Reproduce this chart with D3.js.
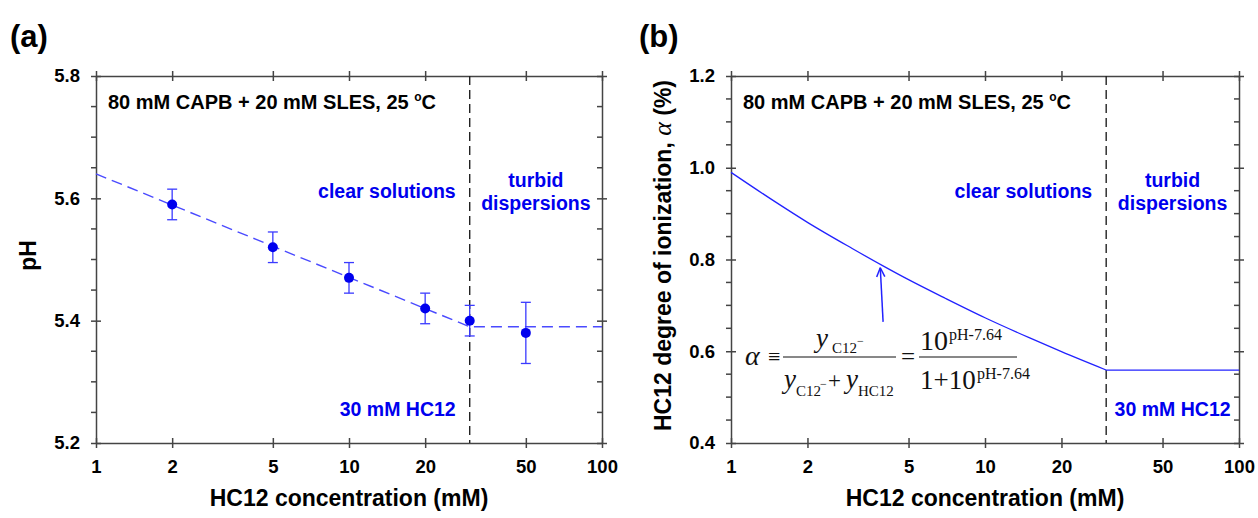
<!DOCTYPE html>
<html>
<head>
<meta charset="utf-8">
<script src="https://cdn.jsdelivr.net/npm/d3@7"></script>
<style>
  body { margin: 0; background: #fff; }
  svg { display: block; font-family: "Liberation Sans", Arial, sans-serif; }
  .axis path, .axis line, .minor { stroke: #444; stroke-width: 1.5; }
  .axis text { font-size: 18.5px; font-weight: bold; fill: #000; font-family: "Liberation Sans", Arial, sans-serif; }
  .title { font-size: 23px; font-weight: bold; fill: #000; }
  .letter { font-size: 31px; font-weight: bold; fill: #000; }
  .note { font-size: 20px; font-weight: bold; fill: #000; }
  .blue { font-size: 19.5px; font-weight: bold; fill: #0000ee; }
  .formula { font-family: "Liberation Serif", "Times New Roman", serif; fill: #111; }
</style>
</head>
<body>
<div id="chart"></div>
<script>
(function () {

  // data
  var xTicks = [1, 2, 5, 10, 20, 50, 100]
  var phTicks = [5.2, 5.4, 5.6, 5.8]
  var alphaTicks = [0.4, 0.6, 0.8, 1.0, 1.2]

  // panel (a): measured pH with error bars
  var conc = [2, 5, 10, 20, 30, 50]
  var ph = [5.59, 5.52, 5.47, 5.42, 5.40, 5.38]
  var phErr = [0.025, 0.025, 0.025, 0.025, 0.025, 0.05]

  // dashed fit line in (a)
  var fitConc = [1, 30, 100]
  var fitPh = [5.64, 5.39, 5.39]

  // panel (b): degree of ionization curve (clear part, then flat part)
  var alphaConc = [1, 1.5, 2, 3, 4, 5, 7, 10, 15, 20, 30]
  var alpha = [0.99, 0.925, 0.881, 0.824, 0.785, 0.756, 0.715, 0.673, 0.629, 0.599, 0.559]
  var flatConc = [30, 100]
  var flatAlpha = [0.559, 0.559]

  var kinkConc = 30

  var top = 76, height = 367

  var svg = d3.select("#chart").append("svg")
    .attr("width", 1258)
    .attr("height", 518)

  function makePanel(opts) {
    var g = svg.append("g")
      .attr("transform", "translate(" + opts.left + "," + top + ")")

    var x = d3.scaleLog().domain([1, 100]).range([0, opts.width])
    var y = d3.scaleLinear().domain(opts.yDomain).range([height, 0])

    // bottom axis with labels, top axis mirrored
    g.append("g")
      .attr("class", "axis x-axis")
      .attr("transform", "translate(0," + height + ")")
      .call(d3.axisBottom(x).tickValues(xTicks).tickFormat(d3.format("d"))
        .tickSize(5).tickSizeOuter(0).tickPadding(12))
    g.append("g")
      .attr("class", "axis x-axis")
      .call(d3.axisTop(x).tickValues(xTicks).tickFormat("").tickSize(5).tickSizeOuter(0))
    g.selectAll(".x-axis .tick line").attr("y1", -5).attr("y2", 5)

    // left axis with labels, right axis mirrored
    g.append("g")
      .attr("class", "axis y-axis")
      .call(d3.axisLeft(y).tickValues(opts.yTicks).tickFormat(d3.format(".1f"))
        .tickSize(5).tickSizeOuter(0).tickPadding(11))
    g.append("g")
      .attr("class", "axis y-axis")
      .attr("transform", "translate(" + opts.width + ",0)")
      .call(d3.axisRight(y).tickValues(opts.yTicks).tickFormat("").tickSize(5).tickSizeOuter(0))
    g.selectAll(".y-axis .tick line").attr("x1", -5).attr("x2", 5)

    // minor ticks every 0.05, pointing left on both sides
    var minor = d3.range(opts.yDomain[0], opts.yDomain[1] + 0.001, 0.05).filter(function (v) {
      return Math.abs(v / 0.2 - Math.round(v / 0.2)) > 0.05
    })
    ;[0, opts.width].forEach(function (xPos) {
      g.selectAll(null)
        .data(minor)
        .enter()
        .append("line")
        .attr("class", "minor")
        .attr("x1", xPos - 5)
        .attr("x2", xPos)
        .attr("y1", function (d) { return y(d) })
        .attr("y2", function (d) { return y(d) })
    })

    // phase boundary
    g.append("line")
      .attr("x1", x(kinkConc)).attr("x2", x(kinkConc))
      .attr("y1", 0).attr("y2", height)
      .attr("stroke", "#222")
      .attr("stroke-width", 1.4)
      .attr("stroke-dasharray", "9,5")

    // titles
    g.append("text")
      .attr("class", "title")
      .attr("x", opts.width / 2)
      .attr("y", height + 63)
      .attr("text-anchor", "middle")
      .text("HC12 concentration (mM)")

    var yt = g.append("text")
      .attr("class", "title")
      .attr("font-size", opts.yTitleSize)
      .attr("transform", "translate(-60," + (height / 2 - 4) + ") rotate(-90)")
      .attr("text-anchor", "middle")
    opts.yTitle.forEach(function (part) {
      var t = yt.append("tspan").text(part.text)
      if (part.greek) {
        t.attr("font-family", "'Liberation Serif', serif")
          .attr("font-style", "italic")
          .attr("font-weight", "normal")
          .attr("font-size", "26px")
      }
    })

    svg.append("text")
      .attr("class", "letter")
      .attr("x", opts.letterX)
      .attr("y", 47)
      .text(opts.letter)

    // condition note
    var note = g.append("text")
      .attr("class", "note")
      .attr("x", 12)
      .attr("y", 33)
    note.append("tspan").text("80 mM CAPB + 20 mM SLES, 25 ")
    note.append("tspan").attr("dy", -8).attr("font-size", "12px").text("o")
    note.append("tspan").attr("dy", 8).text("C")

    // region labels
    g.append("text")
      .attr("class", "blue")
      .attr("x", x(kinkConc) - 14)
      .attr("y", 122)
      .attr("text-anchor", "end")
      .text("clear solutions")
    var mid = (x(kinkConc) + opts.width) / 2
    g.append("text")
      .attr("class", "blue")
      .attr("x", mid)
      .attr("y", 111)
      .attr("text-anchor", "middle")
      .text("turbid")
    g.append("text")
      .attr("class", "blue")
      .attr("x", mid)
      .attr("y", 134)
      .attr("text-anchor", "middle")
      .text("dispersions")

    g.append("text")
      .attr("class", "blue")
      .attr("x", opts.hcRight ? mid : x(kinkConc) - 14)
      .attr("y", 340)
      .attr("text-anchor", opts.hcRight ? "middle" : "end")
      .text("30 mM HC12")

    return { g: g, x: x, y: y }
  }

  // (a) pH vs concentration
  var a = makePanel({
    left: 96, width: 506, yDomain: [5.2, 5.8], yTicks: phTicks,
    yTitle: [{ text: "pH" }], yTitleSize: "23px", letter: "(a)", letterX: 10, hcRight: false
  })

  var fitLine = d3.line()
    .x(function (d) { return a.x(d[0]) })
    .y(function (d) { return a.y(d[1]) })

  a.g.append("path")
    .datum(d3.zip(fitConc, fitPh))
    .attr("d", fitLine)
    .attr("fill", "none")
    .attr("stroke", "#4a4aff")
    .attr("stroke-width", 1.4)
    .attr("stroke-dasharray", "11,6")

  var pts = a.g.selectAll(".pt")
    .data(d3.zip(conc, ph, phErr))
    .enter()
    .append("g")
    .attr("class", "pt")

  pts.append("line")
    .attr("x1", function (d) { return a.x(d[0]) })
    .attr("x2", function (d) { return a.x(d[0]) })
    .attr("y1", function (d) { return a.y(d[1] + d[2]) })
    .attr("y2", function (d) { return a.y(d[1] - d[2]) })
    .attr("stroke", "#3a3aff")
    .attr("stroke-width", 1.3)
  ;[1, -1].forEach(function (s) {
    pts.append("line")
      .attr("x1", function (d) { return a.x(d[0]) - 5 })
      .attr("x2", function (d) { return a.x(d[0]) + 5 })
      .attr("y1", function (d) { return a.y(d[1] + s * d[2]) })
      .attr("y2", function (d) { return a.y(d[1] + s * d[2]) })
      .attr("stroke", "#3a3aff")
      .attr("stroke-width", 1.3)
  })
  pts.append("circle")
    .attr("cx", function (d) { return a.x(d[0]) })
    .attr("cy", function (d) { return a.y(d[1]) })
    .attr("r", 5)
    .attr("fill", "#0000ee")

  // (b) degree of ionization
  var b = makePanel({
    left: 731, width: 508, yDomain: [0.4, 1.2], yTicks: alphaTicks,
    yTitle: [{ text: "HC12 degree of ionization, " }, { text: "\u03b1", greek: true }, { text: " (%)" }],
    yTitleSize: "24px", letter: "(b)", letterX: 639, hcRight: true
  })

  var alphaLine = d3.line()
    .x(function (d) { return b.x(d[0]) })
    .y(function (d) { return b.y(d[1]) })
    .curve(d3.curveMonotoneX)

  b.g.append("path")
    .datum(d3.zip(alphaConc, alpha))
    .attr("d", alphaLine)
    .attr("fill", "none")
    .attr("stroke", "#2222ff")
    .attr("stroke-width", 1.3)
  b.g.append("path")
    .datum(d3.zip(flatConc, flatAlpha))
    .attr("d", alphaLine)
    .attr("fill", "none")
    .attr("stroke", "#2222ff")
    .attr("stroke-width", 1.3)

  // arrow pointing at the curve
  var arrowFrom = [3.97, 0.664], arrowTo = [3.87, 0.782]
  var ax1 = b.x(arrowFrom[0]), ay1 = b.y(arrowFrom[1])
  var ax2 = b.x(arrowTo[0]), ay2 = b.y(arrowTo[1])
  var ang = Math.atan2(ay2 - ay1, ax2 - ax1)
  b.g.append("line")
    .attr("x1", ax1).attr("y1", ay1).attr("x2", ax2).attr("y2", ay2)
    .attr("stroke", "#2222ff").attr("stroke-width", 1.5)
  ;[0.42, -0.42].forEach(function (da) {
    b.g.append("line")
      .attr("x1", ax2).attr("y1", ay2)
      .attr("x2", ax2 - 10 * Math.cos(ang + da))
      .attr("y2", ay2 - 10 * Math.sin(ang + da))
      .attr("stroke", "#2222ff").attr("stroke-width", 1.5)
  })

  // formula
  var f = b.g.append("g").attr("class", "formula")

  function ftext(x, y, size, str, italic) {
    f.append("text")
      .attr("x", x).attr("y", y)
      .attr("font-size", size + "px")
      .attr("font-style", italic ? "italic" : "normal")
      .text(str)
  }

  ftext(14, 289, 28, "\u03b1", true)
  ftext(37, 288, 22, "\u2261")
  f.append("line").attr("x1", 52).attr("x2", 165).attr("y1", 281).attr("y2", 281)
    .attr("stroke", "#111").attr("stroke-width", 1)
  ftext(85, 271, 27, "y", true)
  ftext(101, 277, 15, "C12")
  ftext(126, 269, 12, "\u2212")
  ftext(53, 312, 27, "y", true)
  ftext(65, 320, 15, "C12")
  ftext(89, 312, 12, "\u2212")
  ftext(97, 312, 23, "+")
  ftext(115, 312, 27, "y", true)
  ftext(127, 320, 15, "HC12")
  ftext(170, 289, 25, "=")
  f.append("line").attr("x1", 188).attr("x2", 286).attr("y1", 281).attr("y2", 281)
    .attr("stroke", "#111").attr("stroke-width", 1)
  ftext(189, 274, 28, "10")
  ftext(218, 264, 16, "pH-7.64")
  ftext(189, 313, 27, "1+10")
  ftext(246, 303, 16, "pH-7.64")

})()
</script>
</body>
</html>
